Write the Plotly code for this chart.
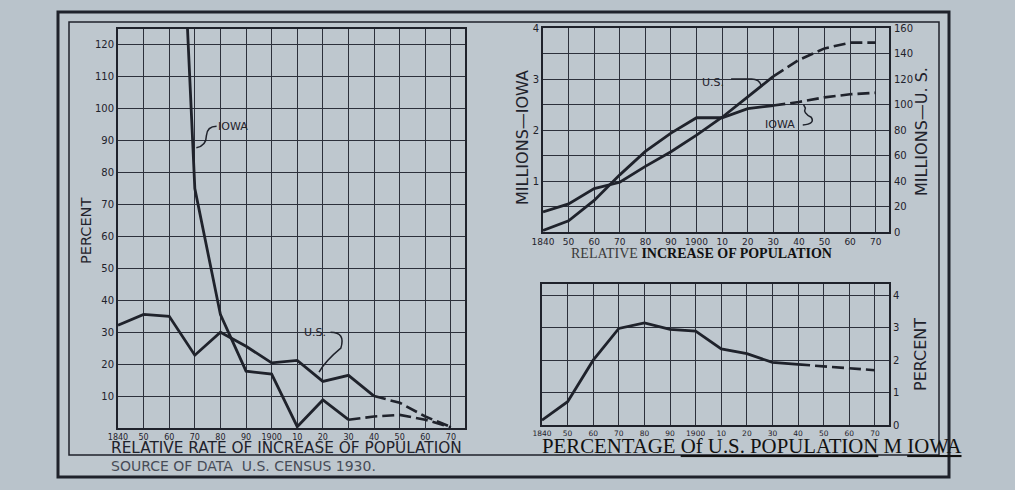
import plotly.graph_objects as go

W, H = 1015, 490

# ---------------- data ----------------
years = [1840, 1850, 1860, 1870, 1880, 1890, 1900, 1910, 1920, 1930, 1940, 1950, 1960, 1970]
tick_labels = ["1840", "50", "60", "70", "80", "90", "1900", "10", "20", "30", "40", "50", "60", "70"]

# Relative rate of increase of population (percent per decade)
rate_years_iowa = [1860, 1870, 1880, 1890, 1900, 1910, 1920, 1930, 1940, 1950, 1960, 1970]
rate_iowa = [250, 75, 35.5, 17.8, 16.9, 0.4, 8.8, 2.6, 3.6, 4.1, 2.6, 0.2]
rate_us = [32.2, 35.6, 35.0, 22.8, 30.0, 25.6, 20.4, 21.2, 14.6, 16.5, 10.0, 7.9, 3.6, 0.3]

# Population (millions)
pop_iowa = [0.03, 0.22, 0.62, 1.12, 1.58, 1.94, 2.24, 2.24, 2.42, 2.48, 2.55, 2.64, 2.70, 2.73]
pop_us = [15.8, 22.0, 34.0, 39.0, 51.5, 63.0, 76.0, 90.0, 106.0, 122.0, 135.0, 144.0, 148.5, 148.5]

# Percentage of U.S. population in Iowa
pct_iowa = [0.15, 0.72, 2.0, 2.98, 3.15, 2.95, 2.9, 2.35, 2.2, 1.93, 1.87, 1.81, 1.75, 1.69]

INK = "#1f222b"
GRID = "#2c303b"
BG = "#b9c3cb"
PAPER_IN = "#bec7ce"
HAND = "DejaVu Sans"
SERIF = "Liberation Serif"


def px(x):
    return x / W


def py(y):
    return 1 - y / H


def split(xs, ys, x_break):
    solid = [(x, y) for x, y in zip(xs, ys) if x <= x_break]
    dash = [(x, y) for x, y in zip(xs, ys) if x >= x_break]
    return solid, dash


fig = go.Figure()


def add_series(xs, ys, x_break, xaxis, yaxis, name):
    solid, dash = split(xs, ys, x_break)
    fig.add_trace(go.Scatter(x=[p[0] for p in solid], y=[p[1] for p in solid], mode="lines",
                             line=dict(color=INK, width=2.8), xaxis=xaxis, yaxis=yaxis,
                             name=name, showlegend=False, hoverinfo="skip"))
    fig.add_trace(go.Scatter(x=[p[0] for p in dash], y=[p[1] for p in dash], mode="lines",
                             line=dict(color=INK, width=2.6, dash="12px,5px"), xaxis=xaxis, yaxis=yaxis,
                             name=name + " (est.)", showlegend=False, hoverinfo="skip"))


# left chart
add_series(rate_years_iowa, rate_iowa, 1930, "x", "y", "Iowa")
add_series(years, rate_us, 1940, "x", "y", "U.S.")
# top right
add_series(years, pop_iowa, 1930, "x2", "y2", "Iowa")
add_series(years, pop_us, 1930, "x2", "y3", "U.S.")
# bottom right
add_series(years, pct_iowa, 1940, "x3", "y4", "Iowa %")

common_x = dict(tickvals=years, ticktext=tick_labels, showgrid=True, gridcolor=GRID, gridwidth=1.4,
                showline=True, linecolor=INK, linewidth=2, mirror=True, ticks="", zeroline=False,
                tickfont=dict(family=HAND, size=8, color=INK), tickangle=0, fixedrange=True,
                automargin=False)
common_y = dict(showgrid=True, gridcolor=GRID, gridwidth=1.4, showline=True, linecolor=INK, linewidth=2,
                mirror=True, ticks="", zeroline=False, tickfont=dict(family=HAND, size=10, color=INK),
                automargin=False, fixedrange=True)

fig.update_layout(
    width=W, height=H,
    margin=dict(l=0, r=0, t=0, b=0, pad=0, autoexpand=False),
    paper_bgcolor=BG,
    plot_bgcolor=PAPER_IN,
    showlegend=False,
    xaxis=dict(common_x, domain=[px(118), px(465)], range=[1840, 1975.5], anchor="y"),
    yaxis=dict(common_y, domain=[py(428), py(29)], range=[0, 125], anchor="x",
               tickvals=list(range(0, 121, 10)), ticktext=[""] + [str(v) for v in range(10, 121, 10)]),
    xaxis2=dict(common_x, domain=[px(543), px(889)], range=[1840, 1975.2], anchor="y2",
                tickfont=dict(family=HAND, size=9, color=INK)),
    yaxis2=dict(common_y, domain=[py(232), py(28)], range=[0, 4], anchor="x2",
                tickvals=[0, 0.5, 1, 1.5, 2, 2.5, 3, 3.5, 4], ticktext=["", "", "1", "", "2", "", "3", "", "4"]),
    yaxis3=dict(overlaying="y2", anchor="x2", side="right", range=[0, 160],
                tickvals=list(range(0, 161, 20)), ticktext=[str(v) for v in range(0, 161, 20)],
                showgrid=False, showline=False, ticks="", zeroline=False, ticklabelstandoff=4,
                tickfont=dict(family=HAND, size=10, color=INK), automargin=False, fixedrange=True),
    xaxis3=dict(common_x, domain=[px(542), px(889)], range=[1840, 1975.5], anchor="y4",
                tickfont=dict(family=HAND, size=7.5, color=INK)),
    yaxis4=dict(common_y, domain=[py(425), py(284)], range=[0, 4.35], anchor="x3", side="right",
                tickvals=[0, 1, 2, 3, 4], ticktext=["0", "1", "2", "3", "4"]),
)

# frames
fig.add_shape(type="rect", xref="paper", yref="paper", x0=px(58), x1=px(949), y0=py(477), y1=py(12),
              line=dict(color=INK, width=3), fillcolor=PAPER_IN, layer="below")
fig.add_shape(type="rect", xref="paper", yref="paper", x0=px(69), x1=px(939), y0=py(455), y1=py(22),
              line=dict(color=INK, width=1.5), layer="below")

ann = []


def text(x, y, t, size=12, color=INK, family=HAND, angle=0, xanchor="center", xref="paper", yref="paper"):
    ann.append(dict(x=x, y=y, xref=xref, yref=yref, text=t, showarrow=False, textangle=angle,
                    xanchor=xanchor, yanchor="middle", font=dict(family=family, size=size, color=color)))


text(px(86), py(231), "PERCENT", size=14.5, angle=-90)
text(px(109), py(448), "RELATIVE RATE OF INCREASE OF POPULATION", size=15.3, xanchor="left")
text(px(109), py(466), "SOURCE OF DATA  U.S. CENSUS 1930.", size=14, color="#474c57", xanchor="left")
text(px(522), py(138), "MILLIONS—IOWA", size=16, angle=-90)
text(px(921), py(132), "MILLIONS—U. S.", size=16, angle=-90)
text(px(920), py(355), "PERCENT", size=16, angle=-90)
text(px(569), py(253), "<span style='color:#3a3a3a'>RELATIVE</span> <b>INCREASE OF POPULATION</b>",
     size=14, color="#111111", family=SERIF, xanchor="left")
text(px(540), py(445), "PERCENTAGE <u>Of U.S. POPULATION</u> M <u>IOWA</u>",
     size=20.8, color="#111111", family=SERIF, xanchor="left")

# series labels (data coordinates)
text(1885, 94.5, "IOWA", size=11, xref="x", yref="y")
text(1917, 29.8, "U.S.", size=11, xref="x", yref="y")
text(1906.5, 2.94, "U.S.", size=11, xref="x2", yref="y2")
text(1932.5, 2.1, "IOWA", size=11, xref="x2", yref="y2")
fig.update_layout(annotations=ann)

# leader lines
lead = dict(color=INK, width=1.5)
fig.add_shape(type="path", xref="x", yref="y", line=lead,
              path="M 1870.6,87.8 Q 1874.5,88.5 1874.5,91.5 Q 1874.8,94.5 1878.5,94.5")
fig.add_shape(type="path", xref="x", yref="y", line=lead,
              path="M 1923,30 Q 1929,30 1927,25 Q 1921,21 1918.5,17.5")
fig.add_shape(type="path", xref="x2", yref="y2", line=lead,
              path="M 1913.5,3.0 L 1921.5,3.0 Q 1924.5,3.0 1925.3,2.87")
fig.add_shape(type="path", xref="x2", yref="y2", line=lead,
              path="M 1941.5,2.1 Q 1946.5,2.12 1944.8,2.25 Q 1941.5,2.33 1942.5,2.43 L 1941.8,2.5")

fig.write_html("out.html", config={"displayModeBar": False},
               post_script="document.body.style.margin='0px';")
